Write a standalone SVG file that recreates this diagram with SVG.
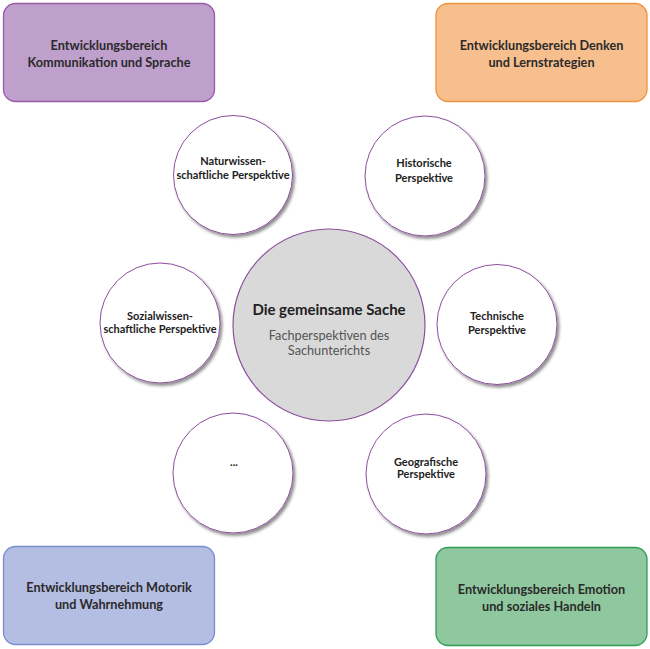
<svg xmlns="http://www.w3.org/2000/svg" width="650" height="649" viewBox="0 0 650 649">
<defs>
<filter id="sh" x="-20%" y="-20%" width="150%" height="150%">
<feDropShadow dx="2" dy="2.5" stdDeviation="1.6" flood-color="#000" flood-opacity="0.45"/>
</filter>
</defs>
<style>
.box{stroke-width:1.3}
.bt{font-family:Lato,"Open Sans","Liberation Sans",sans-serif;font-weight:bold;font-size:12.7px;fill:#2a2a2a;text-anchor:middle}
.c{fill:#fff;stroke:#8c4f9e;stroke-width:1;filter:url(#sh)}
.ct{font-family:Lato,"Open Sans","Liberation Sans",sans-serif;font-weight:bold;font-size:11px;fill:#222;text-anchor:middle}
.mt{font-family:Lato,"Open Sans","Liberation Sans",sans-serif;font-weight:bold;font-size:15px;fill:#222;text-anchor:middle}
.st{font-family:Lato,"Open Sans","Liberation Sans",sans-serif;font-size:12.7px;fill:#555;text-anchor:middle}
</style>
<g id="connectors"></g>
<g id="box-kommunikation">
<rect class="box" x="3.5" y="3.5" width="211" height="98" rx="12" fill="#bf9fcc" stroke="#9a5aa8"/>
<text class="bt" x="109" y="49.5">Entwicklungsbereich</text>
<text class="bt" x="109" y="66.5">Kommunikation und Sprache</text>
</g>
<g id="box-denken">
<rect class="box" x="436" y="3.5" width="211" height="98" rx="12" fill="#f8bf8e" stroke="#f0923c"/>
<text class="bt" x="541.5" y="49.5">Entwicklungsbereich Denken</text>
<text class="bt" x="541.5" y="66.5">und Lernstrategien</text>
</g>
<g id="box-motorik">
<rect class="box" x="3.5" y="546.5" width="211" height="98" rx="12" fill="#b4bde2" stroke="#7b8fd0"/>
<text class="bt" x="109" y="591.5">Entwicklungsbereich Motorik</text>
<text class="bt" x="109" y="608.5">und Wahrnehmung</text>
</g>
<g id="box-emotion">
<rect class="box" x="436" y="547.5" width="211" height="98" rx="12" fill="#8fc79e" stroke="#2f9e55"/>
<text class="bt" x="541.5" y="594">Entwicklungsbereich Emotion</text>
<text class="bt" x="541.5" y="611">und soziales Handeln</text>
</g>
<g id="center">
<circle cx="329" cy="325" r="96" fill="#d9d9d9" stroke="#8c4f9e" stroke-width="1.2"/>
<text class="mt" x="329" y="315">Die gemeinsame Sache</text>
<text class="st" x="329" y="340">Fachperspektiven des</text>
<text class="st" x="329" y="355">Sachunterichts</text>
</g>
<g id="naturwissenschaftlich">
<circle class="c" cx="233" cy="175" r="59.5"/>
<text class="ct" x="233" y="165">Naturwissen-</text>
<text class="ct" x="233" y="178.5">schaftliche Perspektive</text>
</g>
<g id="historisch">
<circle class="c" cx="425" cy="176" r="60"/>
<text class="ct" x="424" y="166.5">Historische</text>
<text class="ct" x="424" y="181.5">Perspektive</text>
</g>
<g id="sozialwissenschaftlich">
<circle class="c" cx="160" cy="323" r="60"/>
<text class="ct" x="160" y="319.5">Sozialwissen-</text>
<text class="ct" x="160" y="333">schaftliche Perspektive</text>
</g>
<g id="technisch">
<circle class="c" cx="497" cy="324.5" r="60"/>
<text class="ct" x="497" y="319.5">Technische</text>
<text class="ct" x="497" y="333.5">Perspektive</text>
</g>
<g id="weitere">
<circle class="c" cx="233" cy="473" r="60"/>
<text class="ct" x="234" y="466">...</text>
</g>
<g id="geografisch">
<circle class="c" cx="426" cy="474" r="60"/>
<text class="ct" x="426" y="465.5">Geografische</text>
<text class="ct" x="426" y="478">Perspektive</text>
</g>
</svg>
